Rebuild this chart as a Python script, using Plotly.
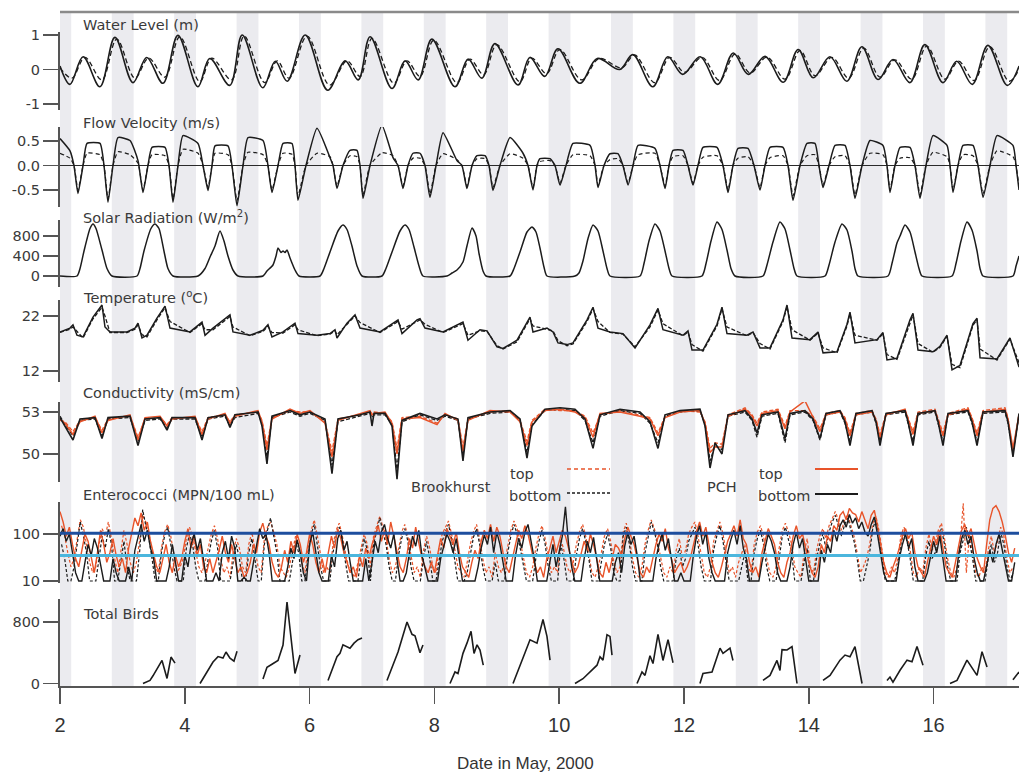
import plotly.graph_objects as go

# ------------------------------------------------------------------ data
x_ticks = [2, 4, 6, 8, 10, 12, 14, 16]

night_start = [1.83, 2.83, 3.83, 4.83, 5.83, 6.83, 7.83, 8.83, 9.83, 10.83,
               11.83, 12.83, 13.83, 14.83, 15.83, 16.83]
night_end = [2.18, 3.18, 4.18, 5.18, 6.18, 7.18, 8.18, 9.18, 10.18, 11.18,
             12.18, 13.18, 14.18, 15.18, 16.18, 17.18]

# Water level (m): tidal highs / lows
wl_solid_t = [2.00, 2.16, 2.37, 2.64, 2.88, 3.17, 3.39, 3.65, 3.89, 4.21, 4.40, 4.72, 4.92, 5.25,
              5.45, 5.64, 5.93, 6.29, 6.57, 6.78, 6.97, 7.32, 7.53, 7.74, 7.96, 8.33, 8.54, 8.76,
              8.97, 9.34, 9.53, 9.77, 9.98, 10.33, 10.61, 10.97, 11.18, 11.50, 11.74, 11.98, 12.26,
              12.54, 12.79, 13.03, 13.30, 13.59, 13.83, 14.07, 14.34, 14.61, 14.85, 15.11, 15.35,
              15.62, 15.86, 16.15, 16.37, 16.62, 16.87, 17.18, 17.37]
wl_solid = [0.10, -0.43, 0.37, -0.50, 0.93, -0.38, 0.35, -0.40, 0.99, -0.50, 0.32, -0.46, 1.00, -0.53,
            0.24, -0.34, 1.00, -0.60, 0.25, -0.30, 0.95, -0.55, 0.25, -0.30, 0.88, -0.50, 0.30, -0.25,
            0.75, -0.45, 0.35, -0.20, 0.60, -0.40, 0.32, 0.00, 0.43, -0.50, 0.37, -0.14, 0.37,
            -0.43, 0.48, -0.14, 0.38, -0.37, 0.58, -0.24, 0.37, -0.34, 0.66, -0.29, 0.29,
            -0.38, 0.72, -0.38, 0.24, -0.43, 0.70, -0.46, 0.10]
wl_dashed_t = [2.00, 2.19, 2.40, 2.67, 2.91, 3.20, 3.42, 3.68, 3.92, 4.24, 4.43, 4.75, 4.95, 5.28,
               5.48, 5.67, 5.96, 6.32, 6.60, 6.81, 7.00, 7.35, 7.56, 7.77, 7.99, 8.36, 8.57, 8.79,
               9.00, 9.37, 9.56, 9.80, 10.01, 10.36, 10.64, 11.00, 11.21, 11.53, 11.77, 12.01, 12.29,
               12.57, 12.82, 13.06, 13.33, 13.62, 13.86, 14.10, 14.37, 14.64, 14.88, 15.14, 15.38,
               15.65, 15.89, 16.18, 16.40, 16.65, 16.90, 17.21, 17.37]
wl_dashed = [0.05, -0.25, 0.35, -0.30, 0.88, -0.25, 0.33, -0.22, 0.95, -0.35, 0.33, -0.30, 0.97, -0.38,
             0.25, -0.25, 0.97, -0.45, 0.25, -0.20, 0.90, -0.40, 0.25, -0.20, 0.85, -0.38, 0.30, -0.15,
             0.72, -0.35, 0.33, -0.12, 0.58, -0.30, 0.32, 0.05, 0.42, -0.38, 0.35, -0.08, 0.35,
             -0.32, 0.45, -0.10, 0.36, -0.28, 0.55, -0.18, 0.35, -0.25, 0.62, -0.22, 0.28,
             -0.28, 0.68, -0.28, 0.24, -0.32, 0.66, -0.34, 0.00]

# Flow velocity (m/s)
flow_t = [2.000, 2.160, 2.224, 2.288, 2.369, 2.433, 2.641, 2.705, 2.769, 2.849,
          2.929, 3.122, 3.250, 3.330, 3.410, 3.474, 3.683, 3.747, 3.811, 3.891,
          3.971, 4.212, 4.292, 4.372, 4.436, 4.484, 4.692, 4.756, 4.837, 4.933,
          5.013, 5.253, 5.333, 5.397, 5.494, 5.574, 5.718, 5.766, 5.814, 5.942,
          6.119, 6.327, 6.375, 6.439, 6.535, 6.647, 6.760, 6.808, 6.856, 6.968,
          7.160, 7.337, 7.417, 7.497, 7.577, 7.657, 7.769, 7.849, 7.929, 8.026,
          8.138, 8.362, 8.442, 8.522, 8.603, 8.683, 8.811, 8.875, 8.939, 9.051,
          9.212, 9.420, 9.500, 9.580, 9.644, 9.692, 9.853, 9.933, 10.013, 10.109,
          10.221, 10.494, 10.574, 10.622, 10.718, 10.814, 10.942, 11.022, 11.103, 11.183,
          11.263, 11.535, 11.615, 11.696, 11.760, 11.824, 11.984, 12.064, 12.144, 12.224,
          12.304, 12.529, 12.625, 12.705, 12.785, 12.865, 13.026, 13.122, 13.218, 13.298,
          13.378, 13.587, 13.667, 13.747, 13.859, 13.971, 14.099, 14.163, 14.228, 14.324,
          14.420, 14.580, 14.660, 14.740, 14.853, 14.981, 15.189, 15.253, 15.301, 15.381,
          15.462, 15.622, 15.702, 15.782, 15.878, 15.990, 16.215, 16.263, 16.311, 16.391,
          16.471, 16.631, 16.712, 16.792, 16.904, 17.016, 17.272, 17.321, 17.369]
flow_solid = [0.55, 0.30, 0.0, -0.57, 0.0, 0.45, 0.45, 0.0, -0.75, 0.0,
              0.57, 0.51, 0.10, -0.55, 0.0, 0.37, 0.37, 0.0, -0.75, 0.0,
              0.61, 0.45, 0.0, -0.51, 0.0, 0.40, 0.40, 0.0, -0.82, 0.0,
              0.57, 0.51, 0.0, -0.55, 0.0, 0.45, 0.45, 0.0, -0.71, 0.0,
              0.76, 0.16, 0.0, -0.47, 0.0, 0.31, 0.31, 0.0, -0.67, 0.0,
              0.82, 0.16, 0.0, -0.47, 0.0, 0.25, 0.25, 0.0, -0.65, 0.0,
              0.67, 0.10, 0.0, -0.47, 0.0, 0.20, 0.20, 0.0, -0.51, 0.0,
              0.57, 0.25, 0.0, -0.50, 0.0, 0.14, 0.14, 0.0, -0.40, 0.0,
              0.45, 0.41, 0.0, -0.45, 0.0, 0.24, 0.24, 0.0, -0.40, 0.0,
              0.41, 0.35, 0.0, -0.47, 0.0, 0.31, 0.31, 0.0, -0.40, 0.0,
              0.37, 0.37, 0.0, -0.55, 0.0, 0.35, 0.35, 0.0, -0.50, 0.0,
              0.37, 0.37, 0.0, -0.71, 0.0, 0.45, 0.45, 0.0, -0.45, 0.0,
              0.41, 0.41, 0.0, -0.67, 0.0, 0.51, 0.41, 0.0, -0.55, 0.0,
              0.37, 0.37, 0.0, -0.67, 0.0, 0.61, 0.41, 0.0, -0.55, 0.0,
              0.41, 0.41, 0.0, -0.65, 0.0, 0.61, 0.41, 0.0, -0.50]
flow_dashed = [0.25, 0.15, 0.0, -0.50, 0.0, 0.25, 0.22, 0.0, -0.68, 0.0,
               0.28, 0.22, 0.05, -0.50, 0.0, 0.22, 0.20, 0.0, -0.68, 0.0,
               0.33, 0.25, 0.0, -0.45, 0.0, 0.25, 0.22, 0.0, -0.72, 0.0,
               0.27, 0.22, 0.0, -0.50, 0.0, 0.25, 0.23, 0.0, -0.62, 0.0,
               0.25, 0.18, 0.0, -0.42, 0.0, 0.20, 0.18, 0.0, -0.60, 0.0,
               0.26, 0.20, 0.0, -0.42, 0.0, 0.15, 0.15, 0.0, -0.58, 0.0,
               0.24, 0.12, 0.0, -0.42, 0.0, 0.14, 0.14, 0.0, -0.45, 0.0,
               0.24, 0.15, 0.0, -0.45, 0.0, 0.08, 0.10, 0.0, -0.36, 0.0,
               0.22, 0.20, 0.0, -0.40, 0.0, 0.12, 0.14, 0.0, -0.36, 0.0,
               0.22, 0.25, 0.0, -0.42, 0.0, 0.18, 0.20, 0.0, -0.36, 0.0,
               0.17, 0.20, 0.0, -0.50, 0.0, 0.15, 0.18, 0.0, -0.45, 0.0,
               0.16, 0.20, 0.0, -0.62, 0.0, 0.20, 0.22, 0.0, -0.40, 0.0,
               0.18, 0.20, 0.0, -0.60, 0.0, 0.25, 0.22, 0.0, -0.50, 0.0,
               0.15, 0.16, 0.0, -0.60, 0.0, 0.27, 0.18, 0.0, -0.50, 0.0,
               0.22, 0.20, 0.0, -0.58, 0.0, 0.30, 0.18, 0.0, -0.45]

# Solar radiation (W/m2)
solar_t = [2.000,
           2.272, 2.321, 2.385, 2.481, 2.529, 2.577, 2.673, 2.753, 2.833,
           3.234, 3.282, 3.346, 3.458, 3.522, 3.586, 3.666, 3.730, 3.811,
           4.212, 4.324, 4.404, 4.484, 4.564, 4.628, 4.692, 4.772, 4.853,
           5.253, 5.317, 5.413, 5.462, 5.494, 5.542, 5.574, 5.606, 5.638, 5.686, 5.766, 5.830,
           6.167, 6.231, 6.327, 6.455, 6.535, 6.599, 6.679, 6.760, 6.840,
           7.160, 7.224, 7.321, 7.449, 7.529, 7.593, 7.673, 7.753, 7.817,
           8.202, 8.282, 8.362, 8.458, 8.522, 8.603, 8.667, 8.715, 8.779, 8.827,
           9.212, 9.276, 9.372, 9.484, 9.564, 9.628, 9.692, 9.756, 9.804,
           10.253, 10.317, 10.381, 10.462, 10.542, 10.622, 10.702, 10.766, 10.814,
           11.295, 11.359, 11.439, 11.535, 11.615, 11.696, 11.760, 11.808,
           12.288, 12.353, 12.433, 12.529, 12.609, 12.689, 12.753, 12.817,
           13.266, 13.330, 13.426, 13.538, 13.619, 13.699, 13.763, 13.811,
           14.260, 14.324, 14.420, 14.532, 14.612, 14.692, 14.740, 14.788,
           15.269, 15.333, 15.381, 15.413, 15.462, 15.542, 15.622, 15.702, 15.766, 15.814,
           16.295, 16.359, 16.439, 16.535, 16.615, 16.696, 16.744, 16.792,
           17.272, 17.321, 17.369]
solar = [0,
         0, 150, 500, 950, 1040, 950, 520, 150, 0,
         0, 150, 500, 950, 1040, 950, 500, 150, 0,
         0, 150, 380, 600, 900, 700, 400, 120, 0,
         0, 100, 220, 400, 560, 470, 500, 470, 520, 360, 120, 0,
         0, 150, 480, 900, 1020, 930, 600, 200, 0,
         0, 150, 480, 900, 1020, 930, 580, 200, 0,
         0, 60, 120, 280, 600, 960, 800, 450, 100, 0,
         0, 150, 480, 880, 980, 880, 560, 180, 0,
         0, 60, 300, 750, 1020, 900, 500, 150, 0,
         0, 250, 700, 1040, 900, 500, 150, 0,
         0, 250, 700, 1080, 930, 520, 150, 0,
         0, 220, 680, 1080, 940, 520, 150, 0,
         0, 220, 680, 1040, 920, 500, 150, 0,
         0, 250, 500, 660, 800, 1020, 880, 480, 150, 0,
         0, 250, 700, 1080, 920, 500, 150, 0,
         0, 200, 400]

# Temperature (deg C)
temp_t = [2.000, 2.160, 2.208, 2.272, 2.369, 2.529, 2.673, 2.721, 2.801, 3.074,
          3.202, 3.250, 3.314, 3.394, 3.554, 3.683, 3.763, 4.083, 4.276, 4.324,
          4.452, 4.724, 4.772, 5.045, 5.253, 5.333, 5.397, 5.574, 5.766, 5.814,
          6.119, 6.327, 6.407, 6.439, 6.599, 6.728, 6.808, 7.128, 7.417, 7.481,
          7.721, 7.769, 7.849, 8.138, 8.458, 8.538, 8.731, 8.843, 9.003, 9.099,
          9.324, 9.532, 9.580, 9.804, 9.901, 9.981, 10.125, 10.221, 10.446, 10.542,
          10.622, 10.814, 11.022, 11.215, 11.455, 11.583, 11.663, 11.984, 12.064, 12.128,
          12.304, 12.529, 12.609, 12.689, 13.010, 13.106, 13.218, 13.378, 13.587, 13.651,
          13.731, 14.019, 14.148, 14.228, 14.452, 14.612, 14.660, 14.740, 15.093, 15.189,
          15.253, 15.413, 15.622, 15.670, 15.750, 15.990, 16.103, 16.215, 16.295, 16.423,
          16.631, 16.696, 16.744, 17.016, 17.224, 17.369]
temp_solid = [19.1, 19.8, 20.4, 18.5, 18.2, 21.8, 24.0, 20.0, 19.1, 19.1,
              19.8, 20.7, 18.0, 18.5, 21.6, 23.8, 19.8, 19.1, 20.9, 18.5,
              19.8, 22.2, 19.1, 18.5, 19.4, 20.4, 18.2, 19.1, 20.7, 18.8,
              18.5, 18.8, 19.5, 18.0, 20.7, 22.2, 19.8, 19.1, 21.3, 18.8,
              21.3, 21.5, 19.8, 19.1, 20.9, 17.6, 19.5, 19.3, 16.4, 16.1,
              17.6, 21.8, 19.1, 19.8, 19.1, 17.1, 16.8, 17.1, 21.3, 23.6,
              19.8, 19.1, 18.8, 16.2, 20.4, 23.4, 19.5, 18.5, 19.3, 15.8,
              15.8, 20.5, 23.6, 18.8, 18.5, 19.1, 16.2, 16.2, 21.3, 24.0,
              18.0, 17.7, 19.1, 15.3, 15.5, 20.5, 22.7, 17.1, 17.7, 19.0,
              14.0, 14.3, 21.3, 22.5, 15.8, 15.5, 16.5, 18.5, 12.2, 13.0,
              20.6, 21.6, 14.4, 14.2, 18.0, 12.7]
temp_dashed = [19.0, 19.6, 20.0, 19.2, 18.0, 21.5, 23.6, 22.0, 19.0, 19.0,
               19.6, 20.4, 18.6, 18.2, 21.3, 23.5, 21.0, 19.0, 20.6, 19.5,
               19.5, 21.9, 20.0, 18.4, 19.2, 20.1, 19.0, 18.9, 20.4, 19.5,
               18.4, 18.7, 19.3, 18.6, 20.4, 22.0, 20.8, 19.0, 21.0, 19.6,
               21.0, 21.3, 20.5, 19.0, 20.6, 18.5, 19.3, 19.2, 16.6, 16.0,
               17.3, 21.5, 20.2, 19.6, 19.3, 17.5, 16.6, 16.9, 21.0, 23.3,
               21.0, 19.0, 18.7, 16.4, 20.0, 23.1, 20.6, 18.4, 19.1, 16.8,
               15.6, 20.2, 23.3, 20.0, 18.4, 19.0, 17.0, 16.0, 21.0, 23.7,
               19.5, 17.6, 18.9, 16.2, 15.3, 20.2, 22.4, 18.5, 17.6, 18.8,
               15.0, 14.1, 21.0, 22.2, 17.0, 15.4, 16.3, 18.3, 13.2, 12.6,
               20.3, 21.3, 16.0, 14.0, 17.8, 13.5]

# Conductivity (mS/cm)
cond_t = [2.000, 2.080, 2.208, 2.321, 2.561, 2.673, 2.769, 3.122, 3.250, 3.362,
          3.603, 3.715, 3.795, 4.164, 4.276, 4.372, 4.644, 4.724, 4.804, 5.173,
          5.237, 5.317, 5.397, 5.686, 5.846, 6.006, 6.247, 6.359, 6.455, 6.808,
          6.968, 7.000, 7.032, 7.208, 7.321, 7.401, 7.481, 7.769, 8.042, 8.170,
          8.378, 8.458, 8.538, 8.891, 9.212, 9.372, 9.484, 9.564, 9.772, 10.013,
          10.253, 10.413, 10.542, 10.654, 10.974, 11.295, 11.455, 11.583, 11.696, 11.936,
          12.256, 12.337, 12.417, 12.497, 12.609, 12.705, 12.978, 13.090, 13.170, 13.250,
          13.506, 13.619, 13.699, 13.939, 14.067, 14.179, 14.276, 14.500, 14.580, 14.660,
          14.756, 15.013, 15.077, 15.141, 15.237, 15.542, 15.590, 15.670, 15.750, 16.022,
          16.071, 16.151, 16.231, 16.551, 16.615, 16.696, 16.792, 17.144, 17.192, 17.272,
          17.369]
cond_pch_bottom = [52.6, 52.0, 51.0, 52.5, 52.6, 51.1, 52.6, 52.7, 50.6, 52.5,
                   52.6, 51.7, 52.6, 52.6, 51.0, 52.6, 52.8, 51.9, 52.8, 53.0,
                   52.0, 49.3, 52.7, 53.1, 52.8, 53.0, 52.5, 48.6, 52.5, 52.8,
                   53.0, 52.0, 52.9, 52.9, 52.0, 48.2, 52.4, 52.9, 52.5, 52.8,
                   52.5, 49.5, 52.6, 53.0, 53.1, 52.5, 49.7, 52.0, 53.2, 53.3,
                   53.2, 52.5, 50.4, 52.8, 53.2, 53.0, 52.3, 50.4, 52.8, 53.1,
                   53.2, 52.0, 49.0, 50.8, 50.0, 52.8, 53.1, 52.5, 51.5, 52.8,
                   53.0, 51.1, 52.9, 53.1, 52.5, 51.1, 52.9, 53.1, 52.3, 50.6,
                   52.9, 53.1, 52.3, 50.6, 52.9, 53.1, 52.3, 50.6, 52.9, 53.1,
                   52.3, 50.6, 52.9, 53.1, 52.3, 50.6, 53.0, 53.1, 52.3, 49.8,
                   52.9]
cond_pch_top = [52.5, 52.2, 51.4, 52.3, 52.7, 51.5, 52.4, 52.8, 51.0, 52.6,
                52.7, 52.0, 52.5, 52.7, 51.4, 52.5, 52.9, 52.2, 52.7, 53.1,
                52.3, 50.3, 52.5, 53.2, 52.9, 53.1, 52.2, 49.8, 52.4, 52.9,
                53.1, 52.8, 52.9, 53.0, 52.2, 50.0, 52.5, 52.6, 52.1, 52.9,
                52.4, 50.2, 52.4, 53.1, 53.0, 52.3, 50.6, 52.3, 53.1, 53.2,
                53.0, 52.6, 51.2, 52.9, 53.0, 52.7, 52.5, 51.3, 52.6, 53.0,
                53.1, 52.2, 50.1, 50.5, 50.5, 52.7, 53.2, 52.7, 52.0, 52.9,
                53.1, 51.8, 53.0, 53.8, 52.6, 51.6, 52.8, 53.0, 52.5, 51.3,
                52.8, 53.0, 52.4, 51.2, 52.8, 53.2, 52.5, 51.4, 52.9, 53.1,
                52.4, 51.3, 52.8, 53.2, 52.5, 51.3, 53.0, 53.2, 52.5, 50.4,
                52.8]
cond_bh_bottom = [52.7, 52.1, 51.3, 52.4, 52.5, 51.3, 52.5, 52.6, 50.9, 52.4,
                  52.5, 51.9, 52.5, 52.5, 51.2, 52.5, 52.7, 52.0, 52.6, 52.9,
                  52.2, 49.8, 52.6, 53.0, 52.7, 52.9, 52.4, 49.2, 52.3, 52.7,
                  52.9, 52.6, 52.8, 52.8, 52.1, 48.9, 52.3, 52.8, 52.4, 52.7,
                  52.4, 49.9, 52.5, 52.9, 53.0, 52.4, 50.1, 52.1, 53.1, 53.2,
                  53.1, 52.4, 50.8, 52.7, 53.1, 52.9, 52.2, 50.8, 52.7, 53.0,
                  53.1, 52.1, 49.5, 50.6, 50.3, 52.7, 53.0, 52.4, 51.2, 52.7,
                  52.9, 50.8, 52.8, 53.0, 52.4, 51.0, 52.8, 53.0, 52.2, 50.9,
                  52.8, 53.0, 52.2, 50.9, 52.8, 53.0, 52.2, 50.9, 52.8, 53.0,
                  52.2, 50.9, 52.8, 53.0, 52.2, 50.9, 52.9, 53.0, 52.2, 50.1,
                  52.8]
cond_bh_top = [52.4, 52.3, 51.6, 52.4, 52.6, 51.7, 52.5, 52.7, 51.2, 52.5,
               52.6, 52.1, 52.6, 52.6, 51.6, 52.6, 52.8, 52.3, 52.8, 53.0,
               52.4, 50.6, 52.6, 53.1, 53.0, 53.0, 52.3, 50.2, 52.5, 52.8,
               53.0, 52.9, 53.0, 52.9, 52.3, 50.4, 52.6, 52.7, 52.2, 52.8,
               52.5, 50.5, 52.5, 53.0, 53.1, 52.4, 50.9, 52.4, 53.2, 53.1,
               53.1, 52.7, 51.5, 52.8, 53.1, 52.8, 52.6, 51.5, 52.7, 53.1,
               53.0, 52.3, 50.4, 50.8, 50.7, 52.8, 53.3, 52.8, 52.2, 53.0,
               53.2, 52.0, 53.1, 53.1, 52.7, 51.8, 52.9, 53.1, 52.6, 51.5,
               52.9, 53.1, 52.5, 51.4, 52.9, 53.1, 52.6, 51.6, 53.0, 53.2,
               52.5, 51.5, 52.9, 53.3, 52.6, 51.5, 53.1, 53.3, 52.6, 50.0,
               52.9]

# Enterococci (MPN/100 mL), samples every 0.05 day (20 per day, one row per day)
entero_pch_start, entero_bh_start, entero_step = 2.0, 2.025, 0.05
entero_pch_bottom = [
    90, 130, 70, 100, 40, 15, 10, 10, 25, 60, 35, 80, 50, 20, 10, 10, 10, 30, 15, 10,
    10, 10, 20, 10, 45, 90, 160, 70, 120, 50, 30, 10, 10, 10, 10, 20, 60, 25, 10, 10,
    35, 20, 60, 100, 45, 80, 25, 10, 10, 10, 15, 10, 40, 70, 30, 90, 50, 10, 10, 12,
    10, 10, 25, 60, 130, 80, 100, 40, 10, 10, 10, 10, 10, 20, 50, 30, 75, 40, 15, 10,
    60, 110, 40, 15, 10, 10, 10, 35, 20, 80, 120, 45, 70, 25, 10, 10, 10, 10, 30, 10,
    25, 70, 40, 110, 160, 80, 50, 100, 30, 10, 10, 15, 40, 90, 55, 120, 35, 20, 10, 10,
    10, 10, 30, 55, 100, 70, 40, 80, 25, 10, 10, 10, 10, 10, 20, 50, 95, 60, 140, 40,
    110, 60, 25, 10, 10, 10, 35, 80, 50, 110, 160, 70, 30, 10, 10, 10, 10, 25, 60, 20,
    45, 90, 380, 60, 20, 10, 10, 10, 30, 70, 40, 85, 30, 10, 10, 10, 10, 10, 25, 40,
    15, 55, 110, 60, 90, 35, 10, 10, 10, 10, 10, 30, 60, 100, 45, 80, 25, 10, 10, 15,
    10, 10, 10, 35, 90, 150, 60, 110, 30, 15, 10, 10, 10, 10, 40, 75, 120, 60, 150, 50,
    30, 10, 10, 10, 10, 25, 50, 100, 70, 40, 15, 10, 10, 10, 20, 60, 110, 50, 80, 30,
    10, 10, 10, 10, 45, 25, 60, 40, 120, 70, 150, 200, 140, 260, 170, 220, 130, 180, 110, 90,
    160, 230, 100, 40, 15, 10, 10, 10, 10, 30, 60, 100, 50, 80, 20, 10, 10, 10, 15, 35,
    70, 40, 90, 30, 10, 10, 10, 10, 35, 80, 120, 60, 90, 30, 15, 10, 10, 20, 45, 25,
    60, 100, 45, 20, 10, 10, 25]
entero_pch_top = [
    300, 180, 90, 140, 60, 30, 20, 45, 100, 70, 30, 15, 40, 120, 60, 25, 40, 80, 35, 20,
    30, 15, 50, 100, 220, 150, 280, 120, 180, 70, 40, 20, 15, 30, 60, 25, 15, 35, 20, 30,
    70, 130, 50, 90, 35, 60, 20, 15, 30, 15, 25, 45, 90, 40, 25, 60, 30, 15, 20, 12,
    15, 25, 60, 40, 110, 170, 90, 60, 25, 15, 12, 20, 45, 25, 70, 40, 100, 60, 25, 40,
    100, 60, 25, 15, 30, 15, 40, 90, 50, 130, 80, 40, 25, 15, 20, 12, 35, 20, 50, 30,
    60, 100, 150, 70, 120, 60, 180, 90, 40, 20, 15, 30, 80, 50, 140, 70, 30, 20, 15, 25,
    15, 35, 80, 50, 130, 90, 60, 110, 40, 20, 15, 12, 25, 45, 30, 70, 120, 80, 160, 70,
    140, 90, 40, 20, 15, 30, 60, 120, 80, 150, 100, 50, 25, 15, 20, 12, 30, 50, 90, 40,
    70, 120, 90, 50, 25, 15, 20, 40, 70, 45, 100, 60, 30, 15, 12, 25, 15, 30, 60, 50,
    35, 80, 140, 90, 60, 30, 15, 12, 20, 15, 30, 60, 100, 70, 130, 50, 30, 15, 20, 25,
    15, 20, 30, 60, 110, 180, 90, 140, 60, 25, 15, 12, 20, 35, 70, 100, 150, 90, 200, 80,
    60, 25, 15, 20, 12, 40, 70, 130, 90, 60, 25, 15, 12, 25, 40, 90, 150, 80, 100, 50,
    25, 15, 12, 20, 60, 40, 90, 70, 150, 120, 250, 300, 200, 350, 280, 260, 180, 300, 200, 130,
    250, 320, 150, 60, 25, 15, 12, 20, 30, 50, 90, 130, 80, 110, 40, 20, 15, 12, 25, 50,
    90, 60, 120, 50, 20, 15, 12, 25, 60, 120, 160, 90, 130, 60, 30, 20, 15, 60, 200, 350,
    400, 300, 180, 90, 40, 25, 50]
entero_bh_bottom = [
    60, 30, 10, 10, 20, 60, 180, 90, 40, 10, 10, 10, 30, 90, 50, 130, 60, 10, 10, 25,
    70, 20, 10, 10, 10, 40, 330, 150, 80, 30, 10, 10, 40, 90, 140, 60, 20, 10, 10, 10,
    50, 100, 60, 20, 10, 10, 10, 30, 70, 120, 50, 10, 10, 10, 10, 25, 60, 30, 10, 10,
    40, 80, 30, 10, 10, 60, 120, 220, 90, 40, 10, 10, 10, 10, 25, 70, 40, 10, 10, 30,
    100, 160, 60, 20, 10, 10, 10, 40, 90, 140, 70, 25, 10, 10, 10, 10, 35, 80, 45, 10,
    60, 120, 220, 110, 60, 20, 10, 10, 35, 80, 130, 70, 20, 10, 10, 10, 30, 70, 30, 10,
    10, 30, 70, 110, 160, 80, 30, 10, 10, 10, 15, 40, 85, 130, 60, 20, 10, 10, 10, 25,
    10, 10, 10, 40, 90, 160, 100, 50, 20, 10, 10, 10, 30, 70, 120, 60, 20, 10, 10, 10,
    60, 30, 10, 10, 10, 35, 80, 130, 70, 30, 10, 10, 10, 25, 60, 100, 50, 15, 10, 10,
    90, 140, 60, 20, 10, 10, 10, 40, 90, 180, 110, 60, 20, 10, 10, 10, 10, 30, 50, 20,
    30, 70, 100, 140, 60, 20, 10, 10, 10, 45, 90, 150, 70, 25, 10, 10, 10, 10, 20, 40,
    10, 10, 40, 80, 120, 60, 20, 10, 10, 10, 30, 90, 140, 80, 40, 10, 10, 10, 25, 50,
    10, 10, 30, 60, 100, 50, 110, 180, 250, 140, 90, 160, 220, 120, 70, 30, 10, 10, 20, 40,
    130, 200, 90, 30, 10, 10, 10, 10, 20, 60, 110, 70, 30, 10, 10, 10, 10, 35, 70, 30,
    40, 90, 130, 60, 20, 10, 10, 10, 40, 80, 140, 70, 30, 10, 10, 10, 10, 30, 60, 25,
    40, 110, 60, 20, 10, 15]
entero_bh_top = [
    150, 90, 40, 20, 30, 80, 200, 140, 60, 25, 15, 20, 60, 130, 90, 180, 80, 30, 15, 40,
    120, 60, 25, 15, 25, 70, 250, 180, 100, 45, 20, 15, 50, 110, 160, 90, 35, 15, 20, 30,
    80, 140, 90, 40, 20, 15, 25, 50, 100, 150, 80, 30, 15, 20, 12, 40, 80, 50, 20, 15,
    60, 110, 50, 20, 15, 80, 140, 180, 110, 60, 20, 15, 12, 20, 40, 90, 60, 25, 15, 50,
    120, 200, 90, 40, 15, 20, 15, 60, 120, 170, 90, 40, 20, 15, 12, 25, 50, 100, 60, 20,
    90, 150, 240, 140, 80, 30, 15, 20, 50, 110, 160, 90, 35, 15, 20, 12, 45, 90, 50, 20,
    15, 50, 100, 140, 190, 100, 50, 20, 15, 12, 25, 60, 110, 160, 80, 30, 15, 20, 12, 40,
    20, 15, 25, 60, 120, 190, 130, 70, 30, 15, 12, 20, 50, 100, 150, 80, 35, 15, 20, 15,
    80, 45, 20, 15, 25, 60, 110, 160, 90, 40, 15, 12, 20, 40, 90, 130, 70, 25, 15, 20,
    110, 170, 80, 30, 15, 12, 20, 60, 120, 200, 130, 70, 30, 15, 12, 20, 15, 45, 80, 30,
    45, 100, 140, 180, 90, 35, 15, 12, 20, 70, 120, 180, 100, 40, 15, 20, 12, 25, 40, 60,
    20, 15, 60, 110, 150, 90, 30, 15, 12, 20, 50, 120, 170, 110, 60, 20, 15, 12, 40, 80,
    20, 15, 45, 90, 130, 80, 150, 220, 300, 200, 120, 200, 260, 150, 90, 40, 15, 20, 30, 60,
    170, 240, 120, 45, 15, 12, 20, 15, 30, 90, 140, 100, 45, 15, 12, 20, 15, 50, 100, 45,
    60, 120, 170, 80, 30, 15, 12, 20, 60, 450, 15, 100, 40, 15, 12, 20, 15, 45, 90, 40,
    70, 140, 90, 30, 15, 20]
entero_limits = [104, 35]

# Total birds (daytime counts, one run per day)
birds_t = [[3.330, 3.442, 3.490, 3.635, 3.715, 3.779, 3.843],
           [4.244, 4.356, 4.452, 4.532, 4.612, 4.660, 4.724, 4.788, 4.837],
           [5.253, 5.317, 5.397, 5.494, 5.574, 5.638, 5.766, 5.846],
           [6.295, 6.439, 6.487, 6.535, 6.647, 6.712, 6.776, 6.840],
           [7.240, 7.417, 7.561, 7.641, 7.689, 7.769, 7.817],
           [8.250, 8.330, 8.378, 8.458, 8.522, 8.587, 8.635, 8.683, 8.731, 8.783],
           [9.260, 9.372, 9.452, 9.532, 9.644, 9.740, 9.804, 9.853],
           [10.253, 10.381, 10.606, 10.654, 10.702, 10.766, 10.814, 10.846],
           [11.247, 11.327, 11.375, 11.455, 11.503, 11.583, 11.663, 11.744, 11.824],
           [12.256, 12.304, 12.449, 12.577, 12.625, 12.737, 12.785],
           [13.266, 13.378, 13.490, 13.538, 13.571, 13.651, 13.731, 13.811],
           [14.228, 14.340, 14.500, 14.580, 14.660, 14.740, 14.853],
           [15.253, 15.301, 15.349, 15.462, 15.574, 15.654, 15.734, 15.830],
           [16.263, 16.375, 16.535, 16.696, 16.776, 16.856],
           [17.272, 17.369]]
birds_v = [[0, 40, 100, 300, 66, 344, 265],
           [0, 150, 280, 350, 330, 410, 330, 290, 420],
           [60, 210, 250, 300, 500, 1060, 130, 370],
           [40, 348, 392, 503, 458, 525, 569, 591],
           [40, 410, 800, 640, 620, 400, 500],
           [0, 150, 130, 392, 525, 679, 392, 503, 436, 238],
           [0, 250, 400, 569, 525, 833, 613, 304],
           [0, 62, 238, 348, 304, 635, 613, 370],
           [0, 150, 106, 360, 260, 640, 300, 570, 270],
           [0, 130, 150, 460, 392, 460, 300],
           [40, 106, 300, 170, 440, 436, 480, 0],
           [40, 106, 304, 370, 348, 480, 0],
           [40, 84, 17, 172, 304, 282, 480, 238],
           [0, 40, 304, 106, 414, 216],
           [50, 150]]

# ------------------------------------------------------------------ layout geometry (window pixels)
W, H = 1019, 773
PLOT_L, PLOT_T, PLOT_B = 60, 12, 686
ML, MR, MT, MB = PLOT_L, 0, PLOT_T, H - PLOT_B
PW, PH = W - ML - MR, PLOT_B - PLOT_T
PX_PER_DAY = 62.4


def fy(py):
    return (PLOT_B - py) / PH


def fx(px):
    return (px - PLOT_L) / PW


def lin_range(v1, p1, v2, p2, ptop, pbot):
    k = (v1 - v2) / (p2 - p1)
    return [v1 - (pbot - p1) * k, v1 + (p1 - ptop) * k]


BLACK = '#1c1c1c'
ORANGE = '#e8542a'
AXC = '#555555'
TXT = '#3a3a3a'
YFONT = dict(family='DejaVu Sans, Verdana, sans-serif', size=14.5, color=TXT)

panels = [
    # top px, bottom px, (val, px), (val, px), tickvals, ticktext, log
    (32, 110, (1, 35), (-1, 104), [-1, 0, 1], ['-1', '0', '1'], False),
    (127, 207, (0.5, 141), (-0.5, 190), [-0.5, 0, 0.5], ['-0.5', '0.0', '0.5'], False),
    (220, 287, (800, 236), (0, 276), [0, 400, 800], ['0', '400', '800'], False),
    (300, 382, (22, 316), (12, 371), [12, 22], ['12', '22'], False),
    (402, 482, (53, 412), (50, 454), [50, 53], ['50', '53'], False),
    (502, 583, (2, 534), (1, 581), [10, 100], ['10', '100'], True),
    (599, 686, (800, 622), (0, 683.5), [0, 800], ['0', '800'], False),
]

fig = go.Figure()


def add(x, y, axis, color, width, dash=None, shape='linear', smoothing=None):
    line = dict(color=color, width=width, shape=shape)
    if dash:
        line['dash'] = dash
    if smoothing is not None:
        line['smoothing'] = smoothing
    fig.add_trace(go.Scatter(x=x, y=y, mode='lines', xaxis='x', yaxis=axis,
                             line=line, hoverinfo='skip', showlegend=False,
                             connectgaps=False))


# water level
add(wl_dashed_t, wl_dashed, 'y', BLACK, 1.3, '5px,3px', 'spline')
add(wl_solid_t, wl_solid, 'y', BLACK, 1.6, None, 'spline')
# flow
add(flow_t, flow_dashed, 'y2', BLACK, 1.2, '4px,3px', 'spline', 0.5)
add(flow_t, flow_solid, 'y2', BLACK, 1.5, None, 'spline', 0.5)
# solar
add(solar_t, solar, 'y3', BLACK, 1.5, None, 'spline', 0.6)
# temperature
add(temp_t, temp_dashed, 'y4', BLACK, 1.3, '4px,2px')
add(temp_t, temp_solid, 'y4', BLACK, 1.5)
# conductivity
add(cond_t, cond_bh_top, 'y5', ORANGE, 1.3, '4px,2px')
add(cond_t, cond_bh_bottom, 'y5', BLACK, 1.3, '4px,2px')
add(cond_t, cond_pch_top, 'y5', ORANGE, 1.5)
add(cond_t, cond_pch_bottom, 'y5', BLACK, 1.6)
# enterococci
t_pch = [round(entero_pch_start + entero_step * i, 3) for i in range(len(entero_pch_top))]
t_pch_b = [round(entero_pch_start + entero_step * i, 3) for i in range(len(entero_pch_bottom))]
t_bh = [round(entero_bh_start + entero_step * i, 3) for i in range(len(entero_bh_top))]
t_bh_b = [round(entero_bh_start + entero_step * i, 3) for i in range(len(entero_bh_bottom))]
add(t_bh, entero_bh_top, 'y6', ORANGE, 1.2, '3px,2px')
add(t_bh_b, entero_bh_bottom, 'y6', BLACK, 1.2, '3px,2px')
add(t_pch, entero_pch_top, 'y6', ORANGE, 1.4)
add(t_pch_b, entero_pch_bottom, 'y6', BLACK, 1.4)
# birds
bx, by = [], []
for ts, vs in zip(birds_t, birds_v):
    bx += ts + [None]
    by += vs + [None]
add(bx, by, 'y7', BLACK, 1.6)

layout = dict(
    width=W, height=H, margin=dict(l=ML, r=MR, t=MT, b=MB),
    paper_bgcolor='white', plot_bgcolor='white', showlegend=False,
    xaxis=dict(range=[2, 2 + PW / PX_PER_DAY], anchor='y7', showline=True, linecolor=AXC,
               linewidth=2, ticks='outside', ticklen=16, tickwidth=1.5, tickcolor=AXC,
               tickvals=x_ticks, ticktext=[str(v) for v in x_ticks],
               tickfont=dict(family='Liberation Sans, Arial, sans-serif', size=20, color='#333'),
               showgrid=False, zeroline=False, ticklabelstandoff=4, fixedrange=True),
)

for i, (ptop, pbot, a, b, tv, tt, is_log) in enumerate(panels):
    name = 'yaxis' if i == 0 else f'yaxis{i + 1}'
    ax = dict(domain=[fy(pbot), fy(ptop)], anchor='x', showline=True, linecolor=AXC,
              linewidth=2, ticks='outside', ticklen=15, tickwidth=1.5, tickcolor=AXC,
              tickvals=tv, ticktext=tt, tickfont=YFONT, showgrid=False, zeroline=False,
              fixedrange=True, range=lin_range(a[0], a[1], b[0], b[1], ptop, pbot))
    if is_log:
        ax['type'] = 'log'
    if i == 1:
        ax.update(zeroline=True, zerolinecolor='#2a2a2a', zerolinewidth=1.5)
    layout[name] = ax

shapes = []
for s, e in zip(night_start, night_end):
    shapes.append(dict(type='rect', xref='x', yref='paper', x0=s, x1=e, y0=0, y1=1,
                       fillcolor='#ebebef', line=dict(width=0), layer='below'))
shapes.append(dict(type='line', xref='paper', yref='paper', x0=0, x1=1, y0=1, y1=1,
                   line=dict(color='#8a8a8a', width=2.5)))
for val, col in zip(entero_limits, ['#1d4e9e', '#4bb6dd']):
    shapes.append(dict(type='line', xref='paper', yref='y6', x0=0, x1=1, y0=val, y1=val,
                       line=dict(color=col, width=3)))
# legend samples
shapes.append(dict(type='line', xref='paper', yref='paper', x0=fx(567), x1=fx(610),
                   y0=fy(469), y1=fy(469), line=dict(color=ORANGE, width=1.5, dash='4px,3px')))
shapes.append(dict(type='line', xref='paper', yref='paper', x0=fx(567), x1=fx(610),
                   y0=fy(493), y1=fy(493), line=dict(color=BLACK, width=1.5, dash='3px,2px')))
shapes.append(dict(type='line', xref='paper', yref='paper', x0=fx(815), x1=fx(858),
                   y0=fy(469), y1=fy(469), line=dict(color=ORANGE, width=2)))
shapes.append(dict(type='line', xref='paper', yref='paper', x0=fx(815), x1=fx(858),
                   y0=fy(494), y1=fy(494), line=dict(color=BLACK, width=2)))
layout['shapes'] = shapes

ann = []
labels = [('Water Level (m)', 25), ('Flow Velocity (m/s)', 123),
          ('Solar Radiation (W/m<sup>2</sup>)', 217), ('Temperature (<sup>o</sup>C)', 297),
          ('Conductivity (mS/cm)', 393), ('Enterococci (MPN/100 mL)', 495),
          ('Total Birds', 614)]
for txt, py in labels:
    ann.append(dict(text=txt, xref='paper', yref='paper', x=fx(81), y=fy(py), xanchor='left',
                    yanchor='middle', showarrow=False, font=YFONT))
legend_txt = [('Brookhurst', 409, 487), ('top', 508, 474), ('bottom', 507, 496),
              ('PCH', 705, 487), ('top', 757, 474), ('bottom', 756, 496)]
for txt, px, py in legend_txt:
    ann.append(dict(text=txt, xref='paper', yref='paper', x=fx(px), y=fy(py), xanchor='left',
                    yanchor='middle', showarrow=False, font=YFONT))
ann.append(dict(text='Date in May, 2000', xref='paper', yref='paper', x=fx(525), y=fy(764),
                xanchor='center', yanchor='middle', showarrow=False,
                font=dict(family='Liberation Sans, Arial, sans-serif', size=17, color='#333')))
layout['annotations'] = ann

fig.update_layout(**layout)
fig.write_html('out.html',
               config={'displayModeBar': False, 'staticPlot': True},
               post_script="document.body.style.margin='0';"
                           "document.documentElement.style.overflow='hidden';"
                           "document.body.style.overflow='hidden';")
